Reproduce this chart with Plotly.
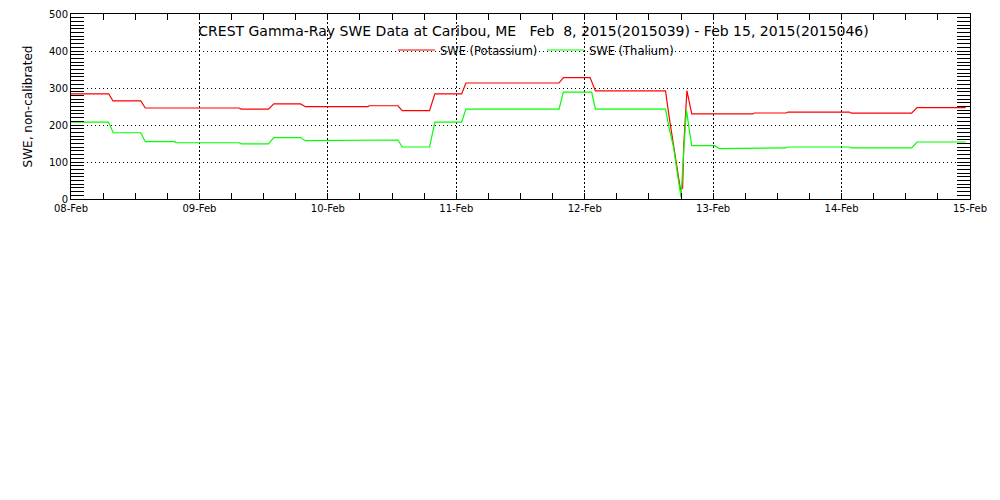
import plotly.graph_objects as go

# ---- data ----
k_times = [
    "2015-02-08 00:00", "2015-02-08 07:03", "2015-02-08 07:51", "2015-02-08 13:02", "2015-02-08 13:53",
    "2015-02-09 07:24", "2015-02-09 07:48", "2015-02-09 12:54", "2015-02-09 13:54", "2015-02-09 18:54",
    "2015-02-09 19:48", "2015-02-10 07:30", "2015-02-10 07:42", "2015-02-10 13:06", "2015-02-10 13:54",
    "2015-02-10 19:00", "2015-02-10 20:00", "2015-02-11 01:00", "2015-02-11 01:48", "2015-02-11 19:12",
    "2015-02-11 20:00", "2015-02-12 01:00", "2015-02-12 02:00", "2015-02-12 15:06", "2015-02-12 15:48",
    "2015-02-12 16:36", "2015-02-12 17:18", "2015-02-12 17:54", "2015-02-12 18:18", "2015-02-12 18:30",
    "2015-02-12 19:06", "2015-02-12 20:00", "2015-02-13 07:24", "2015-02-13 07:42", "2015-02-13 13:36",
    "2015-02-13 14:00", "2015-02-14 01:30", "2015-02-14 01:48", "2015-02-14 13:06", "2015-02-14 14:06",
    "2015-02-14 23:12",
]
swe_potassium = [
    284, 284, 265, 265, 246,
    246, 243, 243, 257, 257,
    249.5, 249.5, 252, 252, 239,
    239, 284, 284, 313.5, 313.5,
    328, 328, 292, 292, 220,
    142, 70, 25, 30, 142,
    293, 230, 230, 232.5, 232.5,
    235, 235, 232, 232, 247,
    247,
]

tl_times = [
    "2015-02-08 00:00", "2015-02-08 07:00", "2015-02-08 07:54", "2015-02-08 13:02", "2015-02-08 13:53",
    "2015-02-08 19:24", "2015-02-08 19:36", "2015-02-09 07:24", "2015-02-09 07:48", "2015-02-09 12:54",
    "2015-02-09 13:54", "2015-02-09 18:54", "2015-02-09 19:48", "2015-02-10 07:30", "2015-02-10 07:42",
    "2015-02-10 13:06", "2015-02-10 13:54", "2015-02-10 19:00", "2015-02-10 20:00", "2015-02-11 01:00",
    "2015-02-11 01:48", "2015-02-11 19:12", "2015-02-11 20:00", "2015-02-12 01:18", "2015-02-12 02:00",
    "2015-02-12 15:06", "2015-02-12 15:48", "2015-02-12 16:36", "2015-02-12 17:18", "2015-02-12 18:00",
    "2015-02-12 18:30", "2015-02-12 19:00", "2015-02-12 20:00", "2015-02-13 00:18", "2015-02-13 01:12",
    "2015-02-13 07:24", "2015-02-13 07:42", "2015-02-13 13:36", "2015-02-13 14:00", "2015-02-14 01:30",
    "2015-02-14 01:48", "2015-02-14 13:06", "2015-02-14 14:06", "2015-02-14 23:12",
]
swe_thalium = [
    208, 208, 179, 179, 155,
    155, 152, 152, 149, 149,
    166, 166, 157.6, 157.6, 159.5,
    159.5, 140.5, 140.5, 208, 208,
    243, 243, 289, 289, 243,
    243, 190, 140, 70, 5,
    130, 240, 144, 144, 136,
    136, 138, 138, 140.5, 140.5,
    138, 138, 154, 154,
]

day_ticks = ["2015-02-08", "2015-02-09", "2015-02-10", "2015-02-11",
             "2015-02-12", "2015-02-13", "2015-02-14", "2015-02-15"]
day_labels = ["08-Feb", "09-Feb", "10-Feb", "11-Feb", "12-Feb", "13-Feb", "14-Feb", "15-Feb"]

title_text = ("CREST Gamma-Ray SWE Data at Caribou, ME\u00a0\u00a0\u00a0Feb\u00a0\u00a08, "
              "2015(2015039) - Feb 15, 2015(2015046)")

FONT = "DejaVu Sans"

# the page body adds an 8px offset; figure is sized to fit the 1000x500 window
W, H, OFF = 992, 492, 8

fig = go.Figure()
fig.add_trace(go.Scatter(x=k_times, y=swe_potassium, mode="lines", name="SWE (Potassium)",
                         line=dict(color="#ff0000", width=1.2)))
fig.add_trace(go.Scatter(x=tl_times, y=swe_thalium, mode="lines", name="SWE (Thalium)",
                         line=dict(color="#00ff00", width=1.2)))

fig.update_layout(
    width=W, height=H,
    margin=dict(l=71 - OFF, r=W - (970 - OFF), t=14 - OFF, b=H - (199 - OFF), pad=0,
                autoexpand=False),
    paper_bgcolor="white", plot_bgcolor="white",
    font=dict(family=FONT, size=11, color="black"),
    title=dict(text=title_text, x=(533.5 - OFF) / W, xanchor="center",
               y=1 - (31 - OFF) / H, yanchor="middle",
               font=dict(family=FONT, size=14, color="black")),
    showlegend=True,
    legend=dict(orientation="h", x=(393 - 71) / 899, xanchor="left",
                y=1 - (50 - 14) / 185, yanchor="middle",
                bgcolor="rgba(0,0,0,0)", borderwidth=0, entrywidth=97,
                font=dict(family=FONT, size=11.5, color="black"),
                itemwidth=37, tracegroupgap=0),
)

fig.update_xaxes(
    type="date", range=["2015-02-08 00:00", "2015-02-15 00:00"],
    tickvals=day_ticks, ticktext=day_labels,
    tickfont=dict(family=FONT, size=10, color="black"),
    ticks="inside", ticklen=6, tickcolor="black", tickwidth=1,
    showline=True, linecolor="black", linewidth=1, mirror="ticks",
    showgrid=True, gridcolor="black", gridwidth=1, griddash="2px,2px",
    minor=dict(dtick=6 * 3600 * 1000, ticks="inside", ticklen=6, tickcolor="black",
               tickwidth=1, showgrid=False),
    zeroline=False, fixedrange=True,
)
fig.update_yaxes(
    range=[0, 500], dtick=100, tick0=0,
    tickfont=dict(family=FONT, size=10, color="black"),
    ticks="inside", ticklen=13, tickcolor="black", tickwidth=1,
    showline=True, linecolor="black", linewidth=1, mirror="ticks",
    showgrid=True, gridcolor="black", gridwidth=1, griddash="1px,3px",
    minor=dict(dtick=10, ticks="inside", ticklen=13, tickcolor="black",
               tickwidth=1, showgrid=False),
    title=dict(text="SWE, non-calibrated", font=dict(family=FONT, size=12, color="black"),
               standoff=13),
    zeroline=False, fixedrange=True,
)

fig.write_html("out.html")
